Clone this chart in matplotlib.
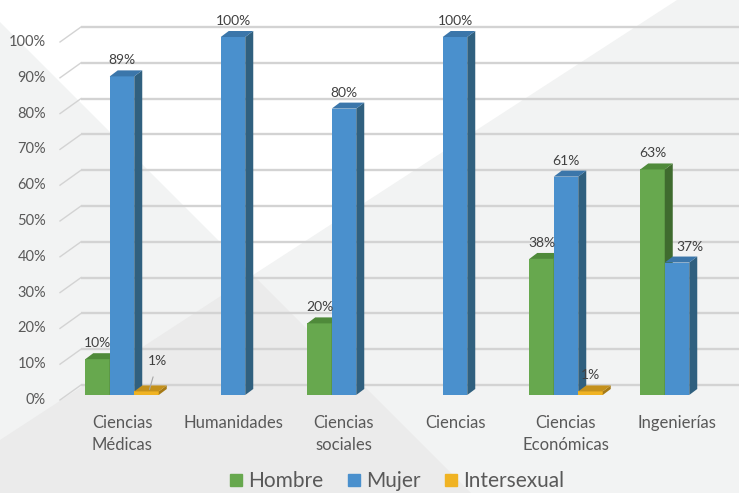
import matplotlib
matplotlib.use("Agg")
import matplotlib.pyplot as plt
from matplotlib.patches import Polygon, Rectangle
from matplotlib.lines import Line2D

plt.rcParams['font.family'] = ['Lato', 'DejaVu Sans']

categories = ["Ciencias\nMédicas", "Humanidades", "Ciencias\nsociales", "Ciencias",
              "Ciencias\nEconómicas", "Ingenierías"]
hombre = [10, 0, 20, 0, 38, 63]
mujer = [89, 100, 80, 100, 61, 37]
intersexual = [1, 0, 0, 0, 1, 0]
series_names = ["Hombre", "Mujer", "Intersexual"]
yticks = [0, 10, 20, 30, 40, 50, 60, 70, 80, 90, 100]

W, H = 739, 493
fig = plt.figure(figsize=(W / 100, H / 100), dpi=100)

# ---- background decoration (figure pixel coords) ----
bg = fig.add_axes([0, 0, 1, 1], zorder=0)
bg.set_xlim(0, W); bg.set_ylim(H, 0); bg.axis('off')
bg.add_patch(Rectangle((0, 0), W, H, color='#f2f3f3', lw=0))
ix, iy = 253, 275
bg.add_patch(Polygon([(0, 0), (0, 22), (ix, iy), (677, 0)], closed=True, color='#ffffff', lw=0))
bg.add_patch(Polygon([(ix, iy), (471, 493), (0, 493), (0, 440)], closed=True, color='#ebebeb', lw=0))

# ---- chart axes ----
px_x = 111.0   # pixels per category
px_y = 3.58    # pixels per percent
x0_px, y0_px = 122.0, 395.0
ax = fig.add_axes([0, 0, 1, 1], zorder=1)
ax.patch.set_alpha(0)
ax.set_xlim(-x0_px / px_x, (W - x0_px) / px_x)
ax.set_ylim((y0_px - H) / px_y, y0_px / px_y)
ax.axis('off')

def dxp(p):
    return p / px_x

def dyp(p):
    return p / px_y

# gridlines on back wall + left diagonal
grid_col = '#d3d3d3'
for v in yticks:
    yb = v + dyp(10)
    ax.plot([dxp(81 - x0_px), ax.get_xlim()[1]], [yb, yb], color=grid_col, lw=1.7, zorder=1,
            solid_capstyle='butt')
    yf = v - dyp(5)
    ax.plot([dxp(60 - x0_px), dxp(81 - x0_px)], [yf, yb], color=grid_col, lw=1.0, zorder=1)
    ax.text(dxp(46 - x0_px), yf, f"{v}%", ha='right', va='center', fontsize=10.5,
            color='#595959', zorder=2)

bw = dxp(24.5)
ddx, ddy = dxp(8), dyp(6)
colors = {
    "Hombre": ('#67a84e', '#4f8a3a', '#3f6b2e'),
    "Mujer": ('#4a90cd', '#3b76aa', '#30607f'),
    "Intersexual": ('#f0b323', '#c4911c', '#a67a16'),
}
offsets = [-bw, 0.0, bw]
data = [hombre, mujer, intersexual]

for i in range(len(categories)):
    for s, (name, vals, off) in enumerate(zip(series_names, data, offsets)):
        v = vals[i]
        if v <= 0:
            continue
        front, top, side = colors[name]
        xc = i + off
        xl, xr = xc - bw / 2, xc + bw / 2
        ax.bar([xc], [v], width=bw, color=front, lw=0, zorder=3 + i * 3 + s)
        ax.add_patch(Polygon([(xr, 0), (xr + ddx, ddy), (xr + ddx, v + ddy), (xr, v)],
                             closed=True, color=side, lw=0, zorder=3 + i * 3 + s))
        ax.add_patch(Polygon([(xl, v), (xl + ddx, v + ddy), (xr + ddx, v + ddy), (xr, v)],
                             closed=True, color=top, lw=0, zorder=3 + i * 3 + s))

# data labels
lab_col = '#404040'
for i in range(len(categories)):
    for s, (name, vals, off) in enumerate(zip(series_names, data, offsets)):
        v = vals[i]
        if v <= 0:
            continue
        xc = i + off
        if name == "Intersexual" and i == 0:
            ax.annotate(f"{v}%", xy=(xc + dxp(3), v + dyp(2)),
                        xytext=(xc + dxp(11), v + dyp(30)), ha='center', va='center',
                        fontsize=10, color=lab_col, zorder=40,
                        arrowprops=dict(arrowstyle='-', color='#a6a6a6', lw=0.8,
                                        shrinkA=5, shrinkB=0))
            continue
        xt = xc
        if name == "Mujer" and i == 5:
            xt = xc + dxp(13)
        ax.text(xt, v + dyp(16), f"{v}%", ha='center', va='center', fontsize=10,
                color=lab_col, zorder=40)

# category labels
for i, c in enumerate(categories):
    ax.text(i, dyp(395 - 415), c, ha='center', va='top', fontsize=12, color='#595959',
            linespacing=1.5, zorder=40)

# legend
handles = [Line2D([], [], marker='s', ls='', markersize=9, color=colors[n][0]) for n in series_names]
fig.legend(handles, series_names, loc='center', bbox_to_anchor=(395 / W, 1 - 481 / H),
           ncol=3, frameon=False, fontsize=15, handletextpad=0.05, columnspacing=1.0,
           labelcolor='#595959', borderpad=0, handlelength=1.0)

fig.savefig("out.png", dpi=100)
